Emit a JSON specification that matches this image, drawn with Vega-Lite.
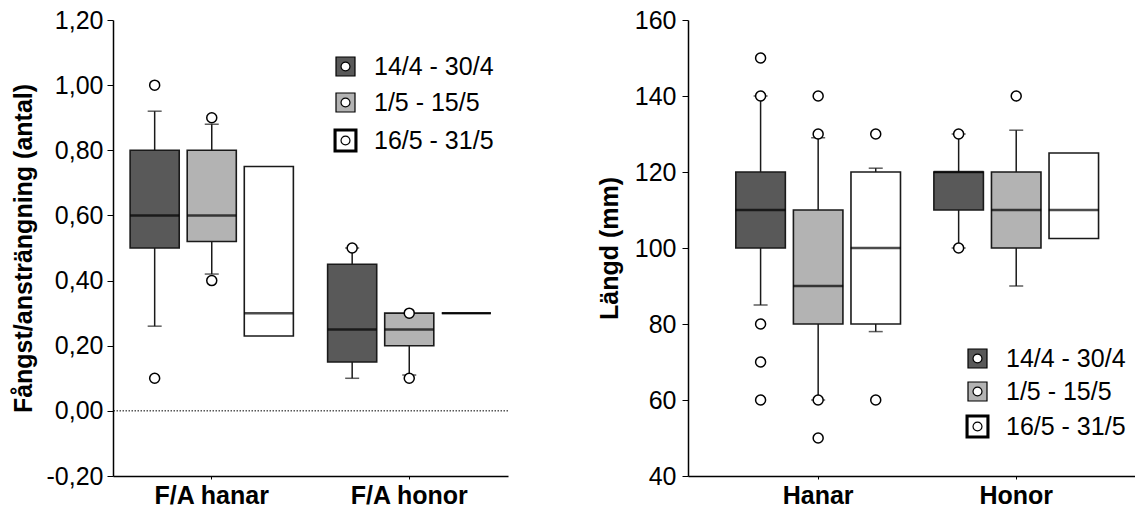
{
  "$schema": "https://vega.github.io/schema/vega-lite/v6.json",
  "padding": {"left": 11, "top": 8, "right": 0, "bottom": 0},
  "background": "white",
  "config": {
    "view": {"stroke": null},
    "font": "Liberation Sans",
    "axis": {
      "grid": false,
      "domainColor": "black",
      "domainWidth": 1.5,
      "tickColor": "black",
      "tickWidth": 1,
      "labelColor": "black",
      "labelFont": "Liberation Sans",
      "labelFontSize": 25,
      "titleFont": "Liberation Sans",
      "titleFontSize": 25,
      "titleFontWeight": "bold",
      "titleColor": "black",
      "labelOverlap": false
    },
    "legend": {
      "orient": "none",
      "title": null,
      "padding": 0,
      "labelFont": "Liberation Sans",
      "labelFontSize": 25,
      "labelColor": "black",
      "labelOffset": 16,
      "symbolType": "M-1,-1H1V1H-1Z M0.47,0A0.47,0.47,0,1,0,-0.47,0A0.47,0.47,0,1,0,0.47,0Z",
      "symbolSize": 361,
      "symbolOpacity": 1,
      "symbolStrokeColor": "black",
      "symbolStrokeWidth": 1.2
    }
  },
  "datasets": {
    "leftBoxes": [
      {"group": "F/A hanar", "period": "14/4 - 30/4", "q1": 0.50, "med": 0.60, "q3": 0.80, "wlo": 0.26, "whi": 0.92},
      {"group": "F/A hanar", "period": "1/5 - 15/5", "q1": 0.52, "med": 0.60, "q3": 0.80, "wlo": 0.42, "whi": 0.88},
      {"group": "F/A hanar", "period": "16/5 - 31/5", "q1": 0.23, "med": 0.30, "q3": 0.75, "wlo": null, "whi": null},
      {"group": "F/A honor", "period": "14/4 - 30/4", "q1": 0.15, "med": 0.25, "q3": 0.45, "wlo": 0.10, "whi": 0.50},
      {"group": "F/A honor", "period": "1/5 - 15/5", "q1": 0.20, "med": 0.25, "q3": 0.30, "wlo": 0.11, "whi": null},
      {"group": "F/A honor", "period": "16/5 - 31/5", "q1": 0.30, "med": 0.30, "q3": 0.30, "wlo": null, "whi": null}
    ],
    "leftOut": [
      {"group": "F/A hanar", "period": "14/4 - 30/4", "value": 1.00},
      {"group": "F/A hanar", "period": "14/4 - 30/4", "value": 0.10},
      {"group": "F/A hanar", "period": "1/5 - 15/5", "value": 0.90},
      {"group": "F/A hanar", "period": "1/5 - 15/5", "value": 0.40},
      {"group": "F/A honor", "period": "14/4 - 30/4", "value": 0.50},
      {"group": "F/A honor", "period": "1/5 - 15/5", "value": 0.30},
      {"group": "F/A honor", "period": "1/5 - 15/5", "value": 0.10}
    ],
    "rightBoxes": [
      {"group": "Hanar", "period": "14/4 - 30/4", "q1": 100, "med": 110, "q3": 120, "wlo": 85, "whi": 140},
      {"group": "Hanar", "period": "1/5 - 15/5", "q1": 80, "med": 90, "q3": 110, "wlo": 60, "whi": 129},
      {"group": "Hanar", "period": "16/5 - 31/5", "q1": 80, "med": 100, "q3": 120, "wlo": 78, "whi": 121},
      {"group": "Honor", "period": "14/4 - 30/4", "q1": 110, "med": 120, "q3": 120, "wlo": 100, "whi": 130},
      {"group": "Honor", "period": "1/5 - 15/5", "q1": 100, "med": 110, "q3": 120, "wlo": 90, "whi": 131},
      {"group": "Honor", "period": "16/5 - 31/5", "q1": 102.5, "med": 110, "q3": 125, "wlo": null, "whi": null}
    ],
    "rightOut": [
      {"group": "Hanar", "period": "14/4 - 30/4", "value": 150},
      {"group": "Hanar", "period": "14/4 - 30/4", "value": 140},
      {"group": "Hanar", "period": "14/4 - 30/4", "value": 80},
      {"group": "Hanar", "period": "14/4 - 30/4", "value": 70},
      {"group": "Hanar", "period": "14/4 - 30/4", "value": 60},
      {"group": "Hanar", "period": "1/5 - 15/5", "value": 140},
      {"group": "Hanar", "period": "1/5 - 15/5", "value": 130},
      {"group": "Hanar", "period": "1/5 - 15/5", "value": 60},
      {"group": "Hanar", "period": "1/5 - 15/5", "value": 50},
      {"group": "Hanar", "period": "16/5 - 31/5", "value": 130},
      {"group": "Hanar", "period": "16/5 - 31/5", "value": 60},
      {"group": "Honor", "period": "14/4 - 30/4", "value": 130},
      {"group": "Honor", "period": "14/4 - 30/4", "value": 100},
      {"group": "Honor", "period": "1/5 - 15/5", "value": 140}
    ]
  },
  "spacing": 88,
  "resolve": {
    "scale": {"x": "independent", "y": "independent", "xOffset": "independent", "color": "independent", "shape": "independent", "stroke": "independent"},
    "legend": {"color": "independent", "shape": "independent", "stroke": "independent"}
  },
  "hconcat": [
    {
      "width": 395,
      "height": 456,
      "encoding": {
        "x": {"field": "group", "type": "nominal", "scale": {"paddingInner": 0, "paddingOuter": 0},
              "axis": {"title": null, "labelAngle": 0, "labelFontWeight": "bold", "labelFontSize": 25, "tickSize": 3, "labelPadding": 4}},
        "xOffset": {"field": "period", "type": "nominal",
                    "scale": {"domain": ["14/4 - 30/4", "1/5 - 15/5", "16/5 - 31/5"], "paddingInner": 0.14, "paddingOuter": 0.3}}
      },
      "layer": [
        {
          "data": {"name": "leftBoxes"},
          "transform": [{"filter": "datum.wlo != null"}],
          "mark": {"type": "rule", "color": "#1a1a1a", "strokeWidth": 1.5},
          "encoding": {
            "y": {"field": "wlo", "type": "quantitative", "scale": {"domain": [-0.2, 1.2], "nice": false, "zero": false},
                  "axis": {"title": "Fångst/ansträngning (antal)", "titlePadding": 10, "labelPadding": 4,
                           "values": [-0.2, -0.15, -0.1, -0.05, 0, 0.05, 0.1, 0.15, 0.2, 0.25, 0.3, 0.35, 0.4, 0.45, 0.5, 0.55, 0.6, 0.65, 0.7, 0.75, 0.8, 0.85, 0.9, 0.95, 1.0, 1.05, 1.1, 1.15, 1.2],
                           "labelExpr": "abs(datum.value*5 - round(datum.value*5)) < 0.001 ? replace(replace(format(datum.value, '.2f'), '.', ','), '\u2212', '-') : ''",
                           "tickSize": {"condition": {"test": "abs(datum.value*5 - round(datum.value*5)) < 0.001", "value": 6}, "value": 3}}},
            "y2": {"field": "q1"}
          }
        },
        {
          "data": {"name": "leftBoxes"},
          "transform": [{"filter": "datum.whi != null"}],
          "mark": {"type": "rule", "color": "#1a1a1a", "strokeWidth": 1.5},
          "encoding": {"y": {"field": "q3", "type": "quantitative"}, "y2": {"field": "whi"}}
        },
        {
          "data": {"name": "leftBoxes"},
          "transform": [{"filter": "datum.wlo != null"}],
          "mark": {"type": "tick", "color": "#1a1a1a", "size": 14, "thickness": 1.5},
          "encoding": {"y": {"field": "wlo", "type": "quantitative"}}
        },
        {
          "data": {"name": "leftBoxes"},
          "transform": [{"filter": "datum.whi != null"}],
          "mark": {"type": "tick", "color": "#1a1a1a", "size": 14, "thickness": 1.5},
          "encoding": {"y": {"field": "whi", "type": "quantitative"}}
        },
        {
          "data": {"name": "leftBoxes"},
          "mark": {"type": "bar", "stroke": "#1a1a1a", "strokeWidth": 1.6, "opacity": 1},
          "encoding": {
            "y": {"field": "q1", "type": "quantitative"},
            "y2": {"field": "q3"},
            "color": {"field": "period", "type": "nominal",
                      "scale": {"domain": ["14/4 - 30/4", "1/5 - 15/5", "16/5 - 31/5"], "range": ["#595959", "#b3b3b3", "#ffffff"]},
                      "legend": {"legendX": 220, "legendY": 34, "rowPadding": 10}}
          }
        },
        {
          "data": {"name": "leftBoxes"},
          "mark": {"type": "point", "filled": true, "size": 0, "strokeWidth": 1.2},
          "encoding": {
            "y": {"field": "med", "type": "quantitative"},
            "color": {"field": "period", "type": "nominal"},
            "stroke": {"field": "period", "type": "nominal",
                       "scale": {"domain": ["14/4 - 30/4", "1/5 - 15/5", "16/5 - 31/5"], "range": ["#000000", "#000000", "#000000"]},
                       "legend": {"legendX": 220, "legendY": 34, "rowPadding": 10}},
            "shape": {"field": "period", "type": "nominal",
                      "scale": {"domain": ["14/4 - 30/4", "1/5 - 15/5", "16/5 - 31/5"],
                                "range": ["M-1,-1H1V1H-1Z M0.47,0A0.47,0.47,0,1,0,-0.47,0A0.47,0.47,0,1,0,0.47,0Z",
                                          "M-1,-1H1V1H-1Z M0.47,0A0.47,0.47,0,1,0,-0.47,0A0.47,0.47,0,1,0,0.47,0Z",
                                          "M-1,-1H1V1H-1Z M-1.05,-1.05H1.05V1.05H-1.05Z M-1.1,-1.1H1.1V1.1H-1.1Z M-1.15,-1.15H1.15V1.15H-1.15Z M-1.2,-1.2H1.2V1.2H-1.2Z M0.47,0A0.47,0.47,0,1,0,-0.47,0A0.47,0.47,0,1,0,0.47,0Z"]},
                      "legend": {"legendX": 220, "legendY": 34, "rowPadding": 10}}
          }
        },
        {
          "data": {"name": "leftBoxes"},
          "mark": {"type": "tick", "color": "black", "size": 49, "thickness": 2.5},
          "encoding": {"y": {"field": "med", "type": "quantitative"}}
        },
        {
          "data": {"name": "leftOut"},
          "mark": {"type": "point", "shape": "circle", "filled": true, "fill": "white", "stroke": "black", "strokeWidth": 1.5, "size": 100, "opacity": 1},
          "encoding": {"y": {"field": "value", "type": "quantitative"}}
        },
        {
          "data": {"values": [{"v": 0}]},
          "mark": {"type": "rule", "color": "black", "strokeWidth": 1, "strokeDash": [1.5, 1.5]},
          "encoding": {"y": {"field": "v", "type": "quantitative"}, "x": null, "xOffset": null}
        }
      ]
    },
    {
      "width": 448,
      "height": 456,
      "encoding": {
        "x": {"field": "group", "type": "nominal", "scale": {"paddingInner": 0, "paddingOuter": 0.131, "align": 0.6},
              "axis": {"title": null, "labelAngle": 0, "labelFontWeight": "bold", "labelFontSize": 25, "tickSize": 3, "labelPadding": 4}},
        "xOffset": {"field": "period", "type": "nominal",
                    "scale": {"domain": ["14/4 - 30/4", "1/5 - 15/5", "16/5 - 31/5"], "paddingInner": 0.14, "paddingOuter": 0.29}}
      },
      "layer": [
        {
          "data": {"name": "rightBoxes"},
          "transform": [{"filter": "datum.wlo != null"}],
          "mark": {"type": "rule", "color": "#1a1a1a", "strokeWidth": 1.5},
          "encoding": {
            "y": {"field": "wlo", "type": "quantitative", "scale": {"domain": [40, 160], "nice": false, "zero": false},
                  "axis": {"title": "Längd (mm)", "titlePadding": 12, "labelPadding": 6,
                           "values": [40, 45, 50, 55, 60, 65, 70, 75, 80, 85, 90, 95, 100, 105, 110, 115, 120, 125, 130, 135, 140, 145, 150, 155, 160],
                           "labelExpr": "datum.value % 20 == 0 ? format(datum.value, 'd') : ''",
                           "tickSize": {"condition": {"test": "datum.value % 20 == 0", "value": 6}, "value": 3}}},
            "y2": {"field": "q1"}
          }
        },
        {
          "data": {"name": "rightBoxes"},
          "transform": [{"filter": "datum.whi != null"}],
          "mark": {"type": "rule", "color": "#1a1a1a", "strokeWidth": 1.5},
          "encoding": {"y": {"field": "q3", "type": "quantitative"}, "y2": {"field": "whi"}}
        },
        {
          "data": {"name": "rightBoxes"},
          "transform": [{"filter": "datum.wlo != null"}],
          "mark": {"type": "tick", "color": "#1a1a1a", "size": 14, "thickness": 1.5},
          "encoding": {"y": {"field": "wlo", "type": "quantitative"}}
        },
        {
          "data": {"name": "rightBoxes"},
          "transform": [{"filter": "datum.whi != null"}],
          "mark": {"type": "tick", "color": "#1a1a1a", "size": 14, "thickness": 1.5},
          "encoding": {"y": {"field": "whi", "type": "quantitative"}}
        },
        {
          "data": {"name": "rightBoxes"},
          "mark": {"type": "bar", "stroke": "#1a1a1a", "strokeWidth": 1.6, "opacity": 1},
          "encoding": {
            "y": {"field": "q1", "type": "quantitative"},
            "y2": {"field": "q3"},
            "color": {"field": "period", "type": "nominal",
                      "scale": {"domain": ["14/4 - 30/4", "1/5 - 15/5", "16/5 - 31/5"], "range": ["#595959", "#b3b3b3", "#ffffff"]},
                      "legend": {"legendX": 277, "legendY": 326, "rowPadding": 7}}
          }
        },
        {
          "data": {"name": "rightBoxes"},
          "mark": {"type": "point", "filled": true, "size": 0, "strokeWidth": 1.2},
          "encoding": {
            "y": {"field": "med", "type": "quantitative"},
            "color": {"field": "period", "type": "nominal"},
            "stroke": {"field": "period", "type": "nominal",
                       "scale": {"domain": ["14/4 - 30/4", "1/5 - 15/5", "16/5 - 31/5"], "range": ["#000000", "#000000", "#000000"]},
                       "legend": {"legendX": 277, "legendY": 326, "rowPadding": 7}},
            "shape": {"field": "period", "type": "nominal",
                      "scale": {"domain": ["14/4 - 30/4", "1/5 - 15/5", "16/5 - 31/5"],
                                "range": ["M-1,-1H1V1H-1Z M0.47,0A0.47,0.47,0,1,0,-0.47,0A0.47,0.47,0,1,0,0.47,0Z",
                                          "M-1,-1H1V1H-1Z M0.47,0A0.47,0.47,0,1,0,-0.47,0A0.47,0.47,0,1,0,0.47,0Z",
                                          "M-1,-1H1V1H-1Z M-1.05,-1.05H1.05V1.05H-1.05Z M-1.1,-1.1H1.1V1.1H-1.1Z M-1.15,-1.15H1.15V1.15H-1.15Z M-1.2,-1.2H1.2V1.2H-1.2Z M0.47,0A0.47,0.47,0,1,0,-0.47,0A0.47,0.47,0,1,0,0.47,0Z"]},
                      "legend": {"legendX": 277, "legendY": 326, "rowPadding": 7}}
          }
        },
        {
          "data": {"name": "rightBoxes"},
          "mark": {"type": "tick", "color": "black", "size": 50, "thickness": 2.5},
          "encoding": {"y": {"field": "med", "type": "quantitative"}}
        },
        {
          "data": {"name": "rightOut"},
          "mark": {"type": "point", "shape": "circle", "filled": true, "fill": "white", "stroke": "black", "strokeWidth": 1.5, "size": 100, "opacity": 1},
          "encoding": {"y": {"field": "value", "type": "quantitative"}}
        }
      ]
    }
  ]
}
